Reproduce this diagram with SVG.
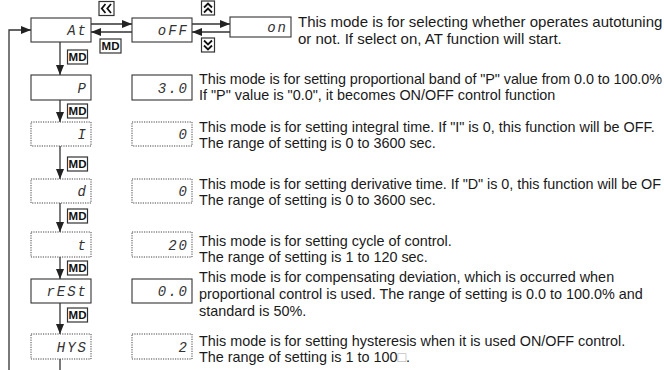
<svg xmlns="http://www.w3.org/2000/svg" width="664" height="370" viewBox="0 0 664 370">
<style>
.box{fill:#fff;stroke:#333;stroke-width:1.1}
.dot{fill:#fff;stroke:#444;stroke-width:1;stroke-dasharray:1.2 1.2}
.seg{font-family:"Liberation Mono",monospace;font-style:italic;font-size:14px;letter-spacing:2px;fill:#333;text-anchor:end}
.txt{font-family:"Liberation Sans",Arial,sans-serif;font-size:14.4px;fill:#1a1a1a}
.txt15{font-family:"Liberation Sans",Arial,sans-serif;font-size:15px;fill:#1a1a1a}
.con{fill:none;stroke:#333;stroke-width:1.3}
.mdb{fill:#fff;stroke:#333;stroke-width:1.2}
.md{font-family:"Liberation Sans",Arial,sans-serif;font-weight:bold;font-size:11.5px;fill:#111;text-anchor:middle}
.chev{fill:none;stroke:#111;stroke-width:1.8;stroke-linejoin:miter}
</style>
<defs>
<marker id="ah" markerUnits="userSpaceOnUse" markerWidth="10" markerHeight="8" refX="10" refY="4" orient="auto">
<path d="M0,0 L10,4 L0,8 z" fill="#222"/>
</marker>
</defs>
<rect width="664" height="370" fill="#fff"/>

<g id="connectors">
<path class="con" d="M91,24 H132" marker-end="url(#ah)"/>
<path class="con" d="M132,32 H91" marker-end="url(#ah)"/>
<path class="con" d="M192,24 H230" marker-end="url(#ah)"/>
<path class="con" d="M230,32 H192" marker-end="url(#ah)"/>
<path class="con" d="M60,42 V75" marker-end="url(#ah)"/>
<path class="con" d="M60,100 V122" marker-end="url(#ah)"/>
<path class="con" d="M60,146 V179" marker-end="url(#ah)"/>
<path class="con" d="M60,203 V232" marker-end="url(#ah)"/>
<path class="con" d="M60,257 V279" marker-end="url(#ah)"/>
<path class="con" d="M60,303 V334" marker-end="url(#ah)"/>
<path class="con" d="M60,359 V370"/>
<path class="con" d="M9,370 V30 H31" marker-end="url(#ah)"/>
</g>

<g id="keys">
<g id="key-left"><rect class="mdb" x="99" y="1.5" width="15" height="14"/><path class="chev" d="M105.5,4 L101.8,8.5 L105.5,13 M111,4 L107.3,8.5 L111,13"/></g>
<g id="key-up"><rect class="mdb" x="201.5" y="1" width="13" height="14"/><path class="chev" d="M204,7.5 L208,3.5 L212,7.5 M204,12.5 L208,8.5 L212,12.5"/></g>
<g id="key-down"><rect class="mdb" x="201.5" y="38" width="13" height="14"/><path class="chev" d="M204,40.5 L208,44.5 L212,40.5 M204,45.5 L208,49.5 L212,45.5"/></g>
<g id="md-at"><rect class="mdb" x="100" y="39" width="21" height="14"/><text class="md" x="110.5" y="50.2">MD</text></g>
<g id="md-1"><rect class="mdb" x="67.5" y="50" width="20" height="14"/><text class="md" x="77.5" y="61.2">MD</text></g>
<g id="md-2"><rect class="mdb" x="67.5" y="104" width="20" height="14"/><text class="md" x="77.5" y="115.2">MD</text></g>
<g id="md-3"><rect class="mdb" x="67.5" y="157" width="20" height="14"/><text class="md" x="77.5" y="168.2">MD</text></g>
<g id="md-4"><rect class="mdb" x="67.5" y="209" width="20" height="14"/><text class="md" x="77.5" y="220.2">MD</text></g>
<g id="md-5"><rect class="mdb" x="67.5" y="261" width="20" height="14"/><text class="md" x="77.5" y="272.2">MD</text></g>
<g id="md-6"><rect class="mdb" x="67.5" y="308" width="20" height="14"/><text class="md" x="77.5" y="319.2">MD</text></g>
</g>

<g id="node-at"><rect class="box" x="31" y="18" width="60" height="24"/><text class="seg" x="88" y="35">At</text></g>
<g id="node-off"><rect class="box" x="132" y="18" width="60" height="24"/><text class="seg" x="189" y="35">oFF</text></g>
<g id="node-on"><rect class="box" x="230" y="17" width="61" height="20"/><text class="seg" x="288" y="32">on</text></g>
<g id="text-at">
<text class="txt15" x="298" y="27">This mode is for selecting whether operates autotuning</text>
<text class="txt15" x="298" y="44">or not. If select on, AT function will start.</text>
</g>

<g id="node-p"><rect class="box" x="31" y="75" width="60" height="25"/><text class="seg" x="88" y="92.5">P</text></g>
<g id="val-p"><rect class="box" x="132" y="75" width="60" height="25"/><text class="seg" x="189" y="92.5">3.0</text></g>
<g id="text-p">
<text class="txt" x="199" y="83.5" textLength="463" lengthAdjust="spacing">This mode is for setting proportional band of "P" value from 0.0 to 100.0%</text>
<text class="txt" x="199" y="99.5">If "P" value is "0.0", it becomes ON/OFF control function</text>
</g>

<g id="node-i"><rect class="dot" x="31" y="122" width="60" height="24"/><text class="seg" x="88" y="139">I</text></g>
<g id="val-i"><rect class="dot" x="132" y="122" width="60" height="24"/><text class="seg" x="189" y="139">0</text></g>
<g id="text-i">
<text class="txt" x="199" y="132">This mode is for setting integral time. If "I" is 0, this function will be OFF.</text>
<text class="txt" x="199" y="148">The range of setting is 0 to 3600 sec.</text>
</g>

<g id="node-d"><rect class="dot" x="31" y="179" width="60" height="24"/><text class="seg" x="88" y="196">d</text></g>
<g id="val-d"><rect class="dot" x="132" y="179" width="60" height="24"/><text class="seg" x="189" y="196">0</text></g>
<g id="text-d">
<text class="txt" x="199" y="189" textLength="462" lengthAdjust="spacing">This mode is for setting derivative time. If "D" is 0, this function will be OF</text>
<text class="txt" x="199" y="205">The range of setting is 0 to 3600 sec.</text>
</g>

<g id="node-t"><rect class="dot" x="31" y="232" width="60" height="25"/><text class="seg" x="88" y="249.5">t</text></g>
<g id="val-t"><rect class="dot" x="132" y="232" width="60" height="25"/><text class="seg" x="189" y="249.5">20</text></g>
<g id="text-t">
<text class="txt" x="199" y="245.5">This mode is for setting cycle of control.</text>
<text class="txt" x="199" y="261.5">The range of setting is 1 to 120 sec.</text>
</g>

<g id="node-rest"><rect class="box" x="31" y="279" width="60" height="24"/><text class="seg" x="88" y="296">rESt</text></g>
<g id="val-rest"><rect class="box" x="132" y="279" width="60" height="24"/><text class="seg" x="189" y="296">0.0</text></g>
<g id="text-rest">
<text class="txt" x="199" y="281.5">This mode is for compensating deviation, which is occurred when</text>
<text class="txt" x="199" y="298.5">proportional control is used. The range of setting is 0.0 to 100.0% and</text>
<text class="txt" x="199" y="315.5">standard is 50%.</text>
</g>

<g id="node-hys"><rect class="dot" x="31" y="334" width="60" height="25"/><text class="seg" x="88" y="351.5">HYS</text></g>
<g id="val-hys"><rect class="dot" x="132" y="334" width="60" height="25"/><text class="seg" x="189" y="351.5">2</text></g>
<g id="text-hys">
<text class="txt" x="199" y="346">This mode is for setting hysteresis when it is used ON/OFF control.</text>
<text class="txt" x="199" y="362">The range of setting is 1 to 100<tspan fill="#aaa">□</tspan>.</text>
</g>
</svg>
